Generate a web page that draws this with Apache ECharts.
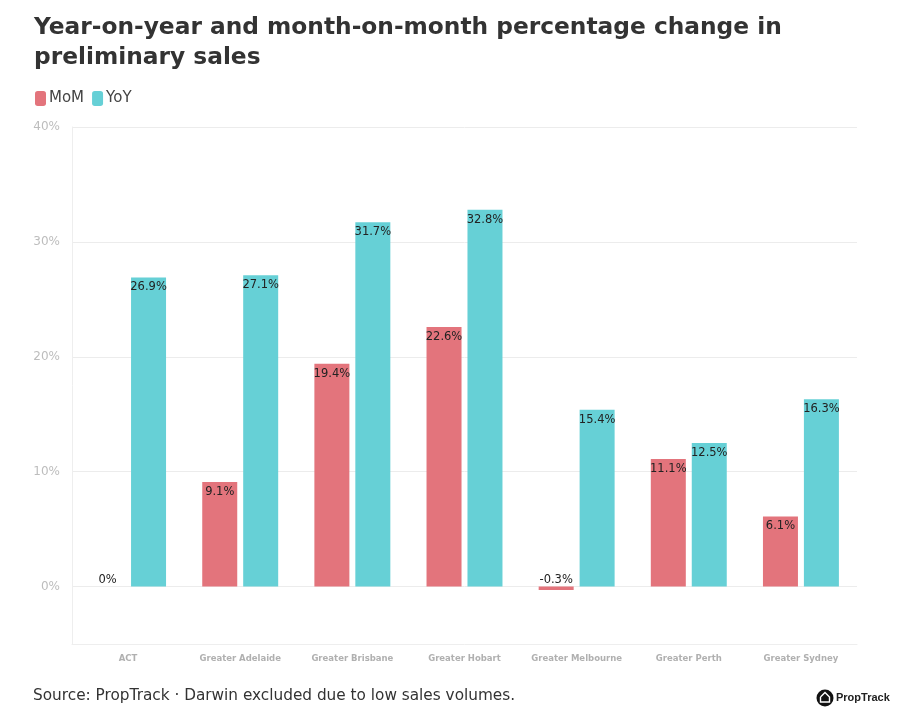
<!DOCTYPE html>
<html>
<head>
<meta charset="utf-8">
<script src="https://cdn.jsdelivr.net/npm/echarts@6/dist/echarts.min.js"></script>
<style>html,body{margin:0;padding:0;background:#fff;}#c{width:905px;height:720px;}</style>
</head>
<body>
<div id="c"></div>
<script>
var categories = ['ACT', 'Greater Adelaide', 'Greater Brisbane', 'Greater Hobart', 'Greater Melbourne', 'Greater Perth', 'Greater Sydney'];
var momValues = [0, 9.1, 19.4, 22.6, -0.3, 11.1, 6.1];
var yoyValues = [26.9, 27.1, 31.7, 32.8, 15.4, 12.5, 16.3];
var yTickLabels = ['0%', '10%', '20%', '30%', '40%'];

var FONT = "'DejaVu Sans', sans-serif";
var chart = echarts.init(document.getElementById('c'), null, {renderer: 'canvas'});

function labelFor(v) {
  return (Math.round(v * 10) / 10) + '%';
}

var momData = momValues.map(function (v) {
  if (v <= 0) {
    return {value: v, label: {position: 'top', distance: 1}};
  }
  return v;
});

var option = {
  animation: false,
  title: {
    text: 'Year-on-year and month-on-month percentage change in\npreliminary sales',
    left: 29, top: 8,
    textStyle: {fontFamily: FONT, fontWeight: 'bold', fontSize: 23.3, color: '#333', lineHeight: 30}
  },
  legend: {
    left: 30, top: 86,
    icon: 'roundRect', itemWidth: 11, itemHeight: 15, itemGap: 8,
    textStyle: {fontFamily: FONT, fontSize: 15, color: '#444', padding: [0, 0, 0, -2]},
    data: ['MoM', 'YoY']
  },
  grid: {left: 72, right: 48, top: 127, bottom: 76, containLabel: false},
  xAxis: {
    type: 'category',
    data: categories,
    axisLine: {onZero: false, lineStyle: {color: '#eeeeee', width: 1}},
    axisTick: {alignWithLabel: true, length: 6, lineStyle: {color: '#e6e6e6'}},
    axisLabel: {interval: 0, fontFamily: FONT, fontSize: 8.5, fontWeight: 'bold', color: '#b0b0b0', margin: 10}
  },
  yAxis: {
    type: 'value',
    min: -5, max: 40, interval: 5,
    axisLine: {show: true, lineStyle: {color: '#eeeeee'}},
    axisTick: {show: false},
    axisLabel: {
      fontFamily: FONT, fontSize: 12, color: '#bdbdbd', margin: 12,
      formatter: function (v) {
        var i = yTickLabels.indexOf(v + '%');
        return (v % 10 === 0 && i >= 0) ? yTickLabels[i] : '';
      }
    },
    splitLine: {show: true, lineStyle: {color: ['transparent', '#ececec'], width: 1}}
  },
  series: [
    {
      name: 'MoM', type: 'bar', data: momData,
      barWidth: 35, barGap: '17%',
      itemStyle: {color: '#e3747c', borderWidth: 0},
      label: {show: true, position: 'insideTop', distance: 4, fontFamily: FONT, fontSize: 11.5, color: '#222', formatter: function (p) { return labelFor(p.value); }}
    },
    {
      name: 'YoY', type: 'bar', data: yoyValues,
      barWidth: 35,
      itemStyle: {color: '#66d0d6', borderWidth: 0},
      label: {show: true, position: 'insideTop', distance: 4, fontFamily: FONT, fontSize: 11.5, color: '#222', formatter: function (p) { return labelFor(p.value); }}
    }
  ],
  graphic: [
    {type: 'text', left: 33, top: 689, style: {text: 'Source: PropTrack \u00b7 Darwin excluded due to low sales volumes.', font: '15.3px ' + FONT, fill: '#333'}},
    {type: 'circle', shape: {cx: 825, cy: 698, r: 8.5}, style: {fill: '#111'}},
    {type: 'polyline', shape: {points: [[820.5, 697], [825, 692.5], [829.5, 697], [829.5, 702], [820.5, 702], [820.5, 697]]}, style: {stroke: '#fff', lineWidth: 1.4, fill: null}},
    {type: 'text', left: 836, top: 692, style: {text: 'PropTrack', font: "bold 11px 'Liberation Sans', sans-serif", fill: '#222'}}
  ]
};
chart.setOption(option);
</script>
</body>
</html>
